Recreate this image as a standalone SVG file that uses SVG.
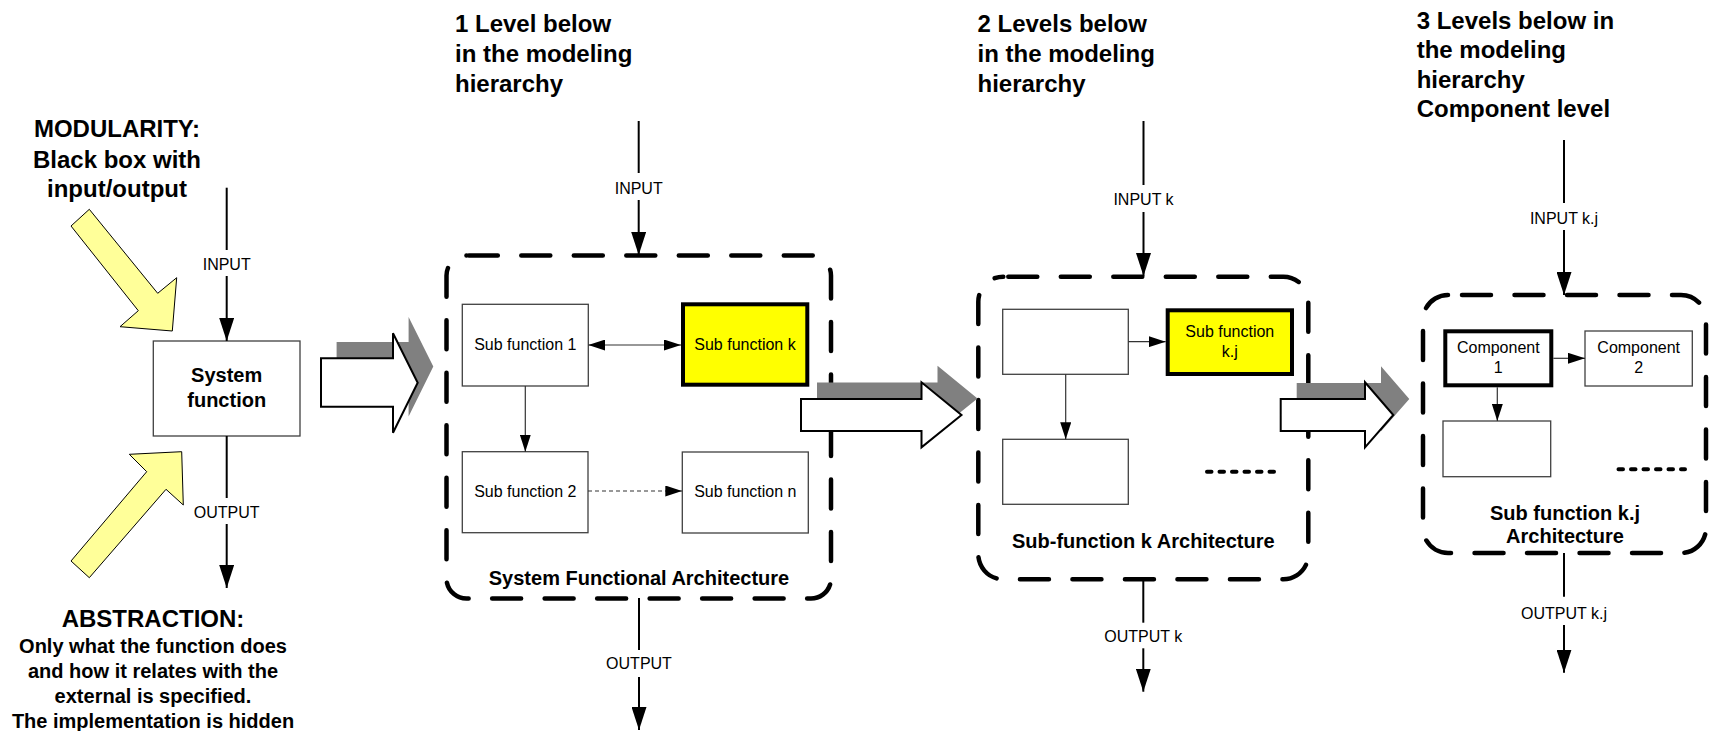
<svg xmlns="http://www.w3.org/2000/svg" width="1713" height="731" viewBox="0 0 1713 731">
  <defs>
    <style>
      .box { fill: #ffffff; stroke: #404040; stroke-width: 1.3; }
      .hl { fill: #ffff00; stroke: #000000; stroke-width: 4; }
      .thick { fill: #ffffff; stroke: #000000; stroke-width: 4; }
      .frame { fill: none; stroke: #000000; stroke-width: 4.5; stroke-linecap: round; stroke-dasharray: 29 23.5; }
      .io { fill: none; stroke: #000000; stroke-width: 2; }
      .link { fill: none; stroke: #333333; stroke-width: 1.2; }
      .dashlink { fill: none; stroke: #333333; stroke-width: 1.2; stroke-dasharray: 4 3; }
      .dots { fill: none; stroke: #000000; stroke-width: 4; stroke-linecap: round; stroke-dasharray: 4.5 8; }
      .hollow { fill: #ffffff; stroke: #000000; stroke-width: 2; stroke-linejoin: miter; }
      .shadow { fill: #808080; stroke: none; }
      .focus { fill: #ffff99; stroke: #000000; stroke-width: 1; }
      text { font-family: "Liberation Sans", Arial, sans-serif; fill: #000000; }
      .lbl { font-size: 16px; text-anchor: middle; }
      .hdr { font-size: 24px; font-weight: bold; }
      .big { font-size: 24px; font-weight: bold; text-anchor: middle; }
      .ttl { font-size: 20px; font-weight: bold; text-anchor: middle; }
    </style>
    <marker id="headBig" markerUnits="userSpaceOnUse" markerWidth="23" markerHeight="15" refX="23" refY="7.5" orient="auto">
      <path d="M0,0 L23,7.5 L0,15 Z" fill="#000000"/>
    </marker>
    <marker id="headSmall" markerUnits="userSpaceOnUse" markerWidth="17" markerHeight="11" refX="17" refY="5.5" orient="auto-start-reverse">
      <path d="M0,0 L17,5.5 L0,11 Z" fill="#000000"/>
    </marker>
  </defs>

  <!-- Left: black-box view of the system function -->
  <g id="modularity-note">
    <text class="big" x="117" y="137">MODULARITY:</text>
    <text class="big" x="117" y="167.5">Black box with</text>
    <text class="big" x="117" y="197">input/output</text>
    <polygon class="focus" points="89.3,209.3 157.7,293.3 176.7,277.7 172.3,331 120,326.7 138.3,310.7 71,226"/>
  </g>

  <g id="abstraction-note">
    <polygon class="focus" points="71,561 146.7,471.7 129.3,454.3 181.7,451.7 183.3,505 166,489.3 89.3,577.7"/>
    <text class="big" x="153" y="626.5">ABSTRACTION:</text>
    <text class="ttl" x="153" y="652.5">Only what the function does</text>
    <text class="ttl" x="153" y="678">and how it relates with the</text>
    <text class="ttl" x="153" y="703">external is specified.</text>
    <text class="ttl" x="153" y="727.5">The implementation is hidden</text>
  </g>

  <g id="system-function">
    <rect class="box" x="153.3" y="341" width="146.7" height="95"/>
    <text class="ttl" x="226.7" y="381.5">System</text>
    <text class="ttl" x="226.7" y="406.5">function</text>
  </g>

  <!-- Level 1: system functional architecture -->
  <g id="level1-header">
    <text class="hdr" x="455" y="32">1 Level below</text>
    <text class="hdr" x="455" y="62">in the modeling</text>
    <text class="hdr" x="455" y="92">hierarchy</text>
  </g>

  <g id="level1-frame">
    <rect class="frame" x="446.5" y="255.5" width="384.5" height="343" rx="20" stroke-dashoffset="-2.3"/>
    <text class="ttl" x="639" y="585">System Functional Architecture</text>
  </g>

  <g id="sub-function-1">
    <rect class="box" x="462.3" y="304.3" width="126" height="81.7"/>
    <text class="lbl" x="525.3" y="350">Sub function 1</text>
  </g>
  <g id="sub-function-k">
    <rect class="hl" x="683" y="304.3" width="124.3" height="80.4"/>
    <text class="lbl" x="745" y="350">Sub function k</text>
  </g>
  <g id="sub-function-2">
    <rect class="box" x="462.3" y="451.7" width="125.7" height="81"/>
    <text class="lbl" x="525.3" y="497">Sub function 2</text>
  </g>
  <g id="sub-function-n">
    <rect class="box" x="682.3" y="452" width="126" height="81"/>
    <text class="lbl" x="745.3" y="497">Sub function n</text>
  </g>

  <!-- Level 2: sub-function k architecture -->
  <g id="level2-header">
    <text class="hdr" x="977.5" y="32">2 Levels below</text>
    <text class="hdr" x="977.5" y="62">in the modeling</text>
    <text class="hdr" x="977.5" y="92">hierarchy</text>
  </g>

  <g id="level2-frame">
    <rect class="frame" x="978.3" y="276.7" width="330" height="302.6" rx="25" stroke-dashoffset="-5"/>
    <text class="ttl" x="1143.3" y="548.3">Sub-function k Architecture</text>
    <line class="dots" x1="1207" y1="471.7" x2="1277" y2="471.7"/>
  </g>

  <g id="level2-block-a">
    <rect class="box" x="1002.7" y="309.3" width="125.6" height="65"/>
  </g>
  <g id="sub-function-kj">
    <rect class="hl" x="1167.7" y="310.3" width="124.3" height="63.7"/>
    <text class="lbl" x="1229.8" y="337.3">Sub function</text>
    <text class="lbl" x="1229.8" y="357.3">k.j</text>
  </g>
  <g id="level2-block-b">
    <rect class="box" x="1002.7" y="439.3" width="125.6" height="65"/>
  </g>

  <!-- Level 3: component level -->
  <g id="level3-header">
    <text class="hdr" x="1416.7" y="28.5">3 Levels below in</text>
    <text class="hdr" x="1416.7" y="58">the modeling</text>
    <text class="hdr" x="1416.7" y="87.5">hierarchy</text>
    <text class="hdr" x="1416.7" y="117">Component level</text>
  </g>

  <g id="level3-frame">
    <rect class="frame" x="1423" y="295" width="283" height="258" rx="25" stroke-dashoffset="-14"/>
    <text class="ttl" x="1565" y="520">Sub function k.j</text>
    <text class="ttl" x="1565" y="543.3">Architecture</text>
    <line class="dots" x1="1618.5" y1="469.3" x2="1685" y2="469.3"/>
  </g>

  <g id="component-1">
    <rect class="thick" x="1445.3" y="331.3" width="106" height="54"/>
    <text class="lbl" x="1498.3" y="352.7">Component</text>
    <text class="lbl" x="1498.3" y="373.3">1</text>
  </g>
  <g id="component-2">
    <rect class="box" x="1585" y="331" width="107.3" height="55"/>
    <text class="lbl" x="1638.7" y="352.7">Component</text>
    <text class="lbl" x="1638.7" y="373.3">2</text>
  </g>
  <g id="level3-block">
    <rect class="box" x="1443" y="421" width="107.7" height="55.7"/>
  </g>

  <!-- Decomposition arrows between levels -->
  <g id="refine-1">
    <path class="shadow" d="M336.6,342 H408.6 V317 L433.3,366.4 L408.6,416.4 V390.4 H336.6 Z"/>
    <path class="hollow" d="M321,358.3 H393 V333.3 L417.7,382.7 L393,432.7 V406.7 H321 Z"/>
  </g>
  <g id="refine-2">
    <path class="shadow" d="M817,382.5 H937.5 V365.8 L977.5,398.5 L937.5,430.8 V414.5 H817 Z"/>
    <path class="hollow" d="M801,399 H921.5 V382.3 L961.5,415 L921.5,447.3 V431 H801 Z"/>
  </g>
  <g id="refine-3">
    <path class="shadow" d="M1296.7,383 H1381 V366.3 L1409.3,399 L1381,431.3 V415 H1296.7 Z"/>
    <path class="hollow" d="M1280.7,399 H1365 V382.3 L1393.3,415 L1365,447.3 V431 H1280.7 Z"/>
  </g>

  <!-- Connectors -->
  <g id="connectors">
    <!-- system function I/O -->
    <line class="io" x1="226.7" y1="187.7" x2="226.7" y2="250"/>
    <line class="io" x1="226.7" y1="276" x2="226.7" y2="341" marker-end="url(#headBig)"/>
    <text class="lbl" x="226.7" y="270">INPUT</text>
    <line class="io" x1="226.7" y1="436" x2="226.7" y2="498"/>
    <line class="io" x1="226.7" y1="524" x2="226.7" y2="588" marker-end="url(#headBig)"/>
    <text class="lbl" x="226.7" y="518.3">OUTPUT</text>

    <!-- level 1 I/O -->
    <line class="io" x1="638.7" y1="121" x2="638.7" y2="173"/>
    <line class="io" x1="638.7" y1="200" x2="638.7" y2="255" marker-end="url(#headBig)"/>
    <text class="lbl" x="638.7" y="194">INPUT</text>
    <line class="io" x1="639" y1="598" x2="639" y2="650"/>
    <line class="io" x1="639" y1="677" x2="639" y2="730" marker-end="url(#headBig)"/>
    <text class="lbl" x="639" y="669">OUTPUT</text>

    <!-- level 1 internal links -->
    <line class="link" x1="588.3" y1="345" x2="681" y2="345" marker-start="url(#headSmall)" marker-end="url(#headSmall)"/>
    <line class="link" x1="525.3" y1="386" x2="525.3" y2="451.7" marker-end="url(#headSmall)"/>
    <line class="dashlink" x1="588" y1="491" x2="682.3" y2="491" marker-end="url(#headSmall)"/>

    <!-- level 2 I/O -->
    <line class="io" x1="1143.5" y1="121" x2="1143.5" y2="185"/>
    <line class="io" x1="1143.5" y1="212" x2="1143.5" y2="276" marker-end="url(#headBig)"/>
    <text class="lbl" x="1143.5" y="204.7">INPUT k</text>
    <line class="io" x1="1143.3" y1="580" x2="1143.3" y2="622.7"/>
    <line class="io" x1="1143.3" y1="648.3" x2="1143.3" y2="691.7" marker-end="url(#headBig)"/>
    <text class="lbl" x="1143.3" y="641.7">OUTPUT k</text>

    <!-- level 2 internal links -->
    <line class="link" x1="1128.3" y1="341.7" x2="1165.7" y2="341.7" marker-end="url(#headSmall)"/>
    <line class="link" x1="1065.7" y1="374.3" x2="1065.7" y2="439.3" marker-end="url(#headSmall)"/>

    <!-- level 3 I/O -->
    <line class="io" x1="1564" y1="140" x2="1564" y2="203"/>
    <line class="io" x1="1564" y1="230" x2="1564" y2="295" marker-end="url(#headBig)"/>
    <text class="lbl" x="1564" y="223.5">INPUT k.j</text>
    <line class="io" x1="1564" y1="553" x2="1564" y2="596.7"/>
    <line class="io" x1="1564" y1="625" x2="1564" y2="672.7" marker-end="url(#headBig)"/>
    <text class="lbl" x="1564" y="619">OUTPUT k.j</text>

    <!-- level 3 internal links -->
    <line class="link" x1="1553.3" y1="358.3" x2="1585" y2="358.3" marker-end="url(#headSmall)"/>
    <line class="link" x1="1497.3" y1="387.3" x2="1497.3" y2="421" marker-end="url(#headSmall)"/>
  </g>
</svg>
